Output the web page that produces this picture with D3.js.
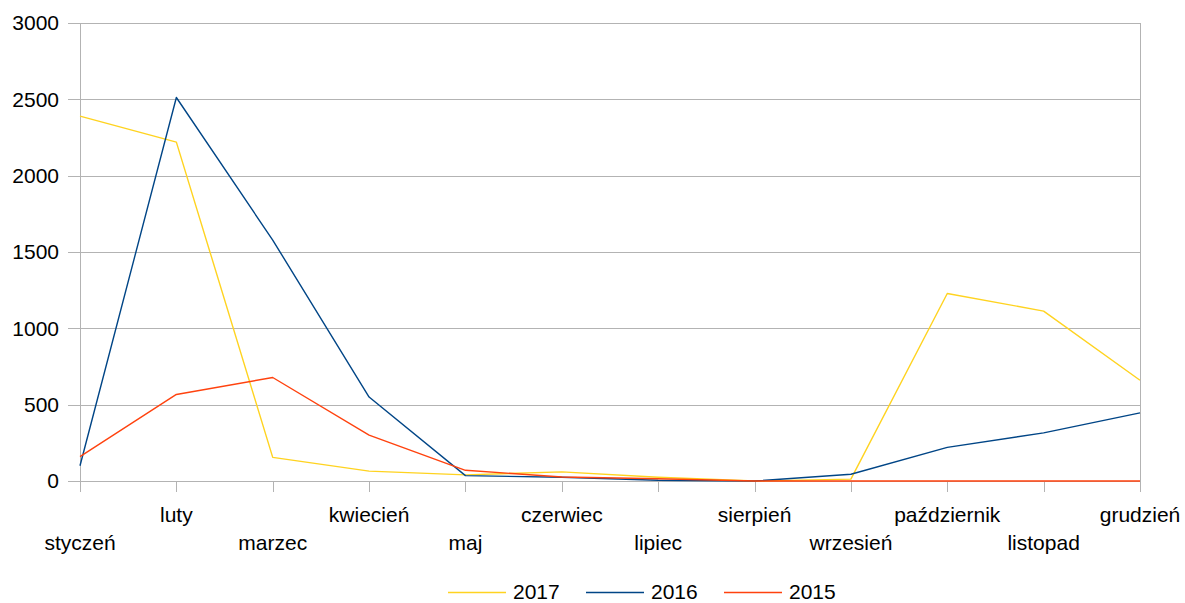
<!DOCTYPE html>
<html>
<head>
<meta charset="utf-8">
<style>
body { margin: 0; background: #fff; }
svg text { font-family: "Liberation Sans", Arial, sans-serif; fill: #000; }
</style>
</head>
<body>
<svg width="1185" height="603"></svg>
<script src="https://cdn.jsdelivr.net/npm/d3@7/dist/d3.min.js"></script>
<script>
// months shown on the x axis
var months = ["styczeń", "luty", "marzec", "kwiecień", "maj", "czerwiec",
              "lipiec", "sierpień", "wrzesień", "październik", "listopad", "grudzień"];

var v2017 = [2390, 2220, 155, 65, 40, 60, 25, 0, 12, 1228, 1113, 660];
var v2016 = [100, 2512, 1578, 550, 35, 25, 5, 0, 44, 220, 315, 446];
var v2015 = [160, 567, 678, 300, 70, 26, 15, 0, 0, 0, 0, 0];

var yTicks = [0, 500, 1000, 1500, 2000, 2500, 3000];
var seriesNames = ["2017", "2016", "2015"];
var colors = ["#ffd320", "#004586", "#ff420e"];

var series = [v2017, v2016, v2015];

var svg = d3.select("svg"),
    margin = {top: 23, right: 45, bottom: 122, left: 80},
    width = +svg.attr("width") - margin.left - margin.right,
    height = +svg.attr("height") - margin.top - margin.bottom,
    g = svg.append("g").attr("transform", "translate(" + margin.left + "," + margin.top + ")");

var x = d3.scalePoint()
    .domain(months)
    .range([0, width]);

var y = d3.scaleLinear()
    .domain([0, 3000])
    .range([height, 0]);

// horizontal gridlines
g.append("g")
  .selectAll("line")
  .data(yTicks)
  .enter().append("line")
    .attr("x1", -12)
    .attr("x2", width)
    .attr("y1", function(d) { return Math.round(y(d)) + 0.5; })
    .attr("y2", function(d) { return Math.round(y(d)) + 0.5; })
    .attr("stroke", "#b3b3b3")
    .attr("stroke-width", 1);

// y labels
g.append("g")
  .selectAll("text")
  .data(yTicks)
  .enter().append("text")
    .attr("x", -21)
    .attr("y", function(d) { return y(d); })
    .attr("dy", "0.35em")
    .attr("text-anchor", "end")
    .attr("font-size", 21)
    .text(function(d) { return d; });

// left and right borders
g.append("line")
    .attr("x1", 0.5).attr("x2", 0.5)
    .attr("y1", 0).attr("y2", height + 11)
    .attr("stroke", "#b3b3b3");
g.append("line")
    .attr("x1", width + 0.5).attr("x2", width + 0.5)
    .attr("y1", 0).attr("y2", height + 11)
    .attr("stroke", "#b3b3b3");

// x ticks
g.append("g")
  .selectAll("line")
  .data(months)
  .enter().append("line")
    .attr("x1", function(d) { return Math.round(x(d)) + 0.5; })
    .attr("x2", function(d) { return Math.round(x(d)) + 0.5; })
    .attr("y1", height)
    .attr("y2", height + 11)
    .attr("stroke", "#b3b3b3");

// staggered month labels
g.append("g")
  .selectAll("text")
  .data(months)
  .enter().append("text")
    .attr("x", function(d) { return x(d); })
    .attr("y", function(d, i) { return height + (i % 2 === 0 ? 69 : 41); })
    .attr("text-anchor", "middle")
    .attr("font-size", 21)
    .text(function(d) { return d; });

var line = d3.line()
    .x(function(d, i) { return x(months[i]); })
    .y(function(d) { return y(d); });

g.append("g")
  .selectAll("path")
  .data(series)
  .enter().append("path")
    .attr("fill", "none")
    .attr("stroke", function(d, i) { return colors[i]; })
    .attr("stroke-width", 1.4)
    .attr("stroke-linejoin", "round")
    .attr("d", line);

// legend
var legend = svg.append("g")
  .selectAll("g")
  .data(seriesNames)
  .enter().append("g")
    .attr("transform", function(d, i) { return "translate(" + (448 + i * 138) + ",592)"; });

legend.append("line")
    .attr("x1", 0).attr("x2", 58)
    .attr("y1", 0.5).attr("y2", 0.5)
    .attr("stroke", function(d, i) { return colors[i]; })
    .attr("stroke-width", 1.4);

legend.append("text")
    .attr("x", 65)
    .attr("y", 0)
    .attr("dy", "0.35em")
    .attr("font-size", 21)
    .text(function(d) { return d; });
</script>
</body>
</html>
